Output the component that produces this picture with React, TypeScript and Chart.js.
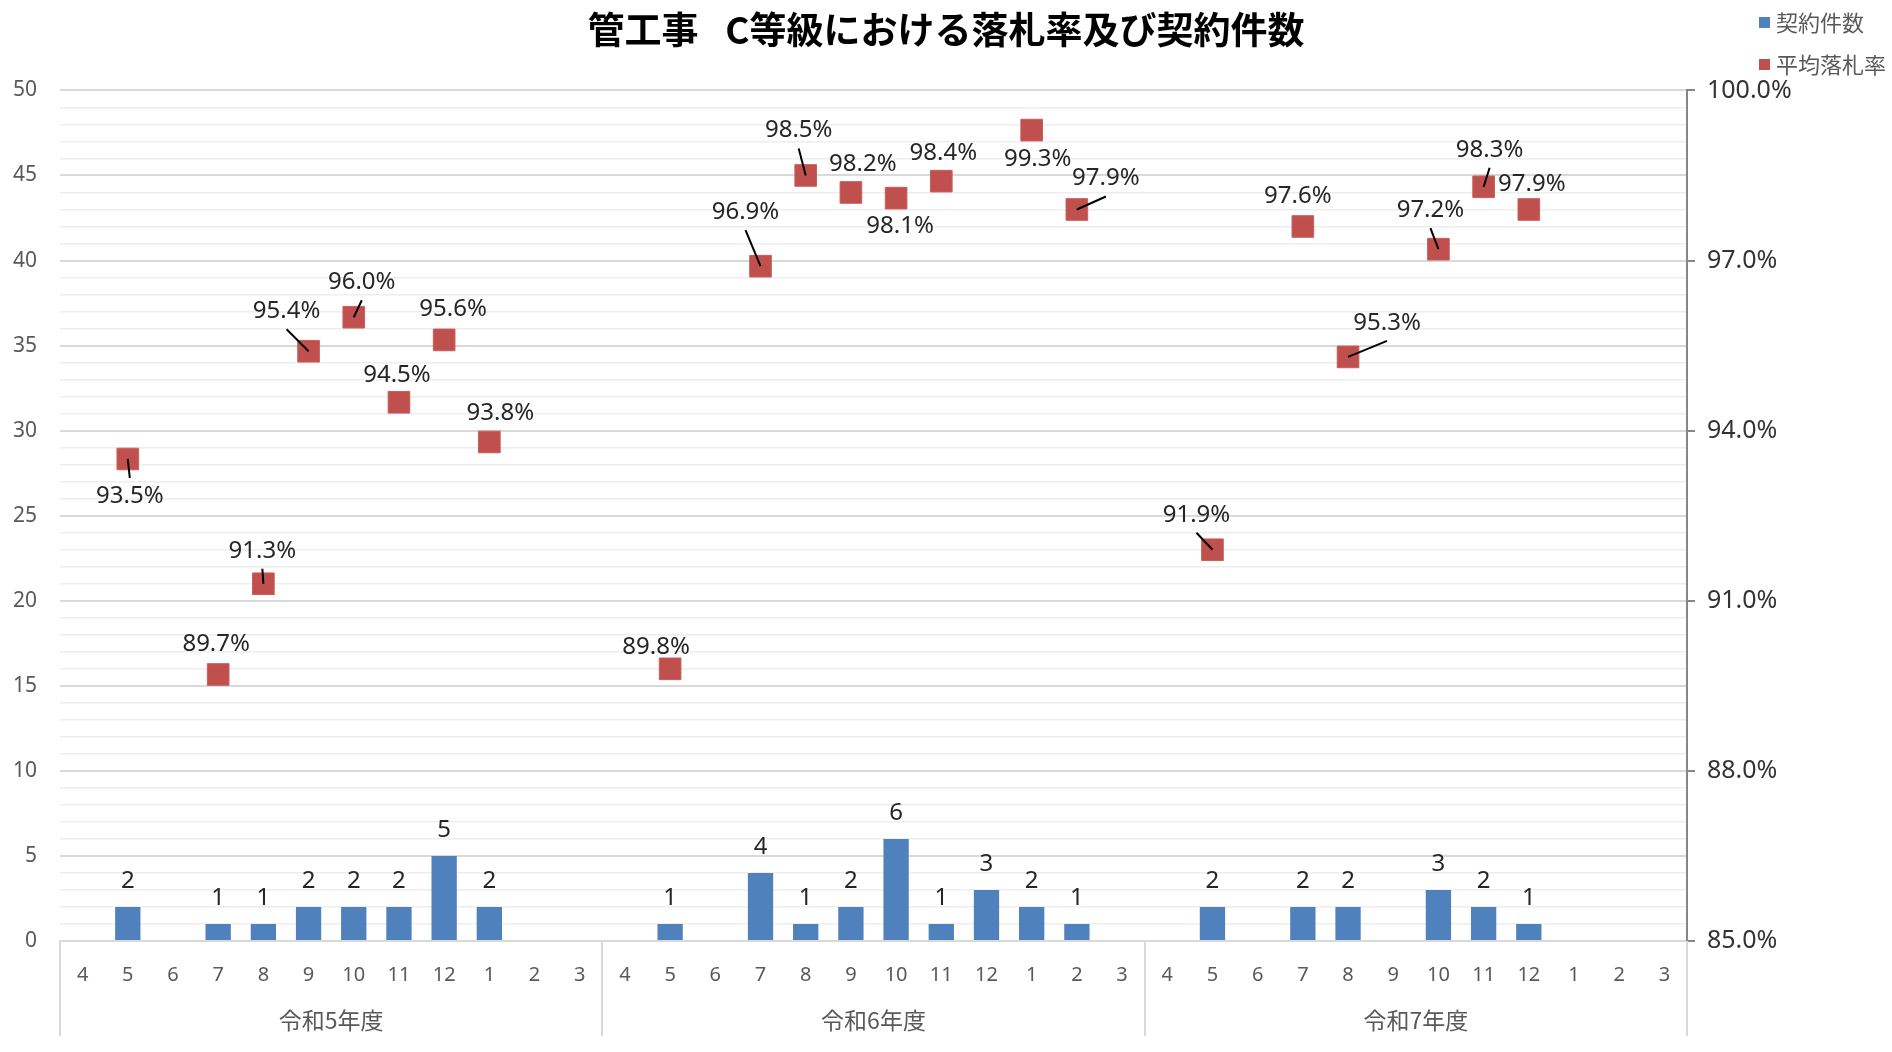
import React, { useEffect, useRef } from 'react';
import { Chart, registerables } from 'chart.js';

Chart.register(...registerables);

const TITLE = '管工事\u2002 C等級における落札率及び契約件数';
const fiscalYears = ['令和5年度', '令和6年度', '令和7年度'];
const monthLabels = ['4', '5', '6', '7', '8', '9', '10', '11', '12', '1', '2', '3'];
const seriesNames = ['契約件数', '平均落札率'];

// 契約件数 (count of contracts) per month
const countR5 = [null, 2, null, 1, 1, 2, 2, 2, 5, 2, null, null];
const countR6 = [null, 1, null, 4, 1, 2, 6, 1, 3, 2, 1, null];
const countR7 = [null, 2, null, 2, 2, null, 3, 2, 1, null, null, null];

// 平均落札率 (average winning-bid rate, %) per month
const rateR5 = [null, 93.5, null, 89.7, 91.3, 95.4, 96.0, 94.5, 95.6, 93.8, null, null];
const rateR6 = [null, 89.8, null, 96.9, 98.5, 98.2, 98.1, 98.4, null, 99.3, 97.9, null];
const rateR7 = [null, 91.9, null, 97.6, 95.3, null, 97.2, 98.3, 97.9, null, null, null];

// Count axis ticks / rate axis ticks
const countAxis = { min: 0, max: 50, minorStep: 1, majorStep: 5 };
const rateAxis = { min: 85, max: 100, step: 3 };

// Rate label placement (dx, dy in px from the marker, leader line flag)
type Off = [number, number, boolean] | null;
const rateLabelOffR5: Off[] = [null, [2, 37, true], null, [-2, -30, false], [-1, -33, true], [-22, -40, true], [8, -35, true], [-2, -27, false], [9, -31, false], [11, -29, false], null, null];
const rateLabelOffR6: Off[] = [null, [-14, -22, false], null, [-15, -54, true], [-7, -45, true], [12, -28, false], [4, 28, false], [2, -28, false], null, [6, 29, false], [29, -31, true], null];
const rateLabelOffR7: Off[] = [null, [-16, -35, true], null, [-5, -30, false], [39, -34, true], null, [-8, -39, true], [6, -37, true], [3, -25, false], null, null, null];

const categories = fiscalYears.flatMap(() => monthLabels);
const counts = [...countR5, ...countR6, ...countR7];
const rates = [...rateR5, ...rateR6, ...rateR7];
const rateOffsets = [...rateLabelOffR5, ...rateLabelOffR6, ...rateLabelOffR7];

const BLUE = '#4f81bd';
const RED = '#c0504d';
const TICK_GRAY = '#595959';
const LABEL_COLOR = '#262626';
const NUM_FONT = '"Noto Sans", "DejaVu Sans", sans-serif';
const JP_FONT = '"Noto Sans CJK JP", "Noto Sans", sans-serif';

const overlayPlugin = {
  id: 'overlay',
  afterDraw(chart: any) {
    const ctx = chart.ctx as CanvasRenderingContext2D;
    const xs = chart.scales.x;
    const area = chart.chartArea;
    ctx.save();

    // category group separators & year labels
    const half = (xs.getPixelForValue(1) - xs.getPixelForValue(0)) / 2;
    const per = monthLabels.length;
    const bounds: number[] = [];
    for (let g = 0; g <= fiscalYears.length; g++) {
      const idx = Math.min(g * per, categories.length - 1);
      const px = g * per >= categories.length ? xs.getPixelForValue(categories.length - 1) + half : xs.getPixelForValue(idx) - half;
      bounds.push(px);
    }
    ctx.strokeStyle = '#d9d9d9';
    ctx.lineWidth = 2;
    bounds.forEach((bx) => {
      ctx.beginPath();
      ctx.moveTo(Math.round(bx), area.bottom);
      ctx.lineTo(Math.round(bx), area.bottom + 95);
      ctx.stroke();
    });
    ctx.fillStyle = TICK_GRAY;
    ctx.font = `23px ${JP_FONT}`;
    ctx.textAlign = 'center';
    ctx.textBaseline = 'middle';
    fiscalYears.forEach((fy, g) => {
      ctx.fillText(fy, (bounds[g] + bounds[g + 1]) / 2, area.bottom + 79);
    });

    // bar value labels
    const barMeta = chart.getDatasetMeta(0);
    ctx.fillStyle = LABEL_COLOR;
    ctx.font = `24px ${NUM_FONT}`;
    barMeta.data.forEach((el: any, i: number) => {
      const v = counts[i];
      if (v == null) return;
      ctx.fillText(String(v), el.x, el.y - 26);
    });

    // rate labels with leader lines
    const rateMeta = chart.getDatasetMeta(1);
    rateMeta.data.forEach((el: any, i: number) => {
      const v = rates[i];
      const off = rateOffsets[i];
      if (v == null || !off) return;
      const lx = el.x + off[0];
      const ly = el.y + off[1];
      if (off[2]) {
        const sy = ly + (off[1] < 0 ? 18 : -18);
        ctx.strokeStyle = '#000';
        ctx.lineWidth = 2;
        ctx.beginPath();
        ctx.moveTo(lx, sy);
        ctx.lineTo(el.x, el.y);
        ctx.stroke();
      }
      ctx.fillStyle = LABEL_COLOR;
      ctx.fillText(`${v.toFixed(1)}%`, lx, ly);
    });

    // legend (top right)
    const lgX = chart.width - 133;
    const items = [
      { name: seriesNames[0], color: BLUE, y: 22 },
      { name: seriesNames[1], color: RED, y: 64 },
    ];
    ctx.font = `22px ${JP_FONT}`;
    ctx.textAlign = 'left';
    items.forEach((it) => {
      ctx.fillStyle = it.color;
      ctx.fillRect(lgX, it.y - 5, 11, 11);
      ctx.fillStyle = TICK_GRAY;
      ctx.fillText(it.name, lgX + 17, it.y + 1);
    });
    ctx.restore();
  },
};

export default function App() {
  const ref = useRef<HTMLCanvasElement | null>(null);

  useEffect(() => {
    document.body.style.margin = '0';
    document.body.style.overflow = 'hidden';
    const canvas = ref.current;
    if (!canvas) return;
    const chart = new Chart(canvas, {
      type: 'bar',
      data: {
        labels: categories,
        datasets: [
          {
            type: 'bar',
            label: seriesNames[0],
            data: counts as any,
            backgroundColor: BLUE,
            yAxisID: 'y',
            categoryPercentage: 1,
            barPercentage: 0.56,
            order: 2,
          },
          {
            type: 'line',
            label: seriesNames[1],
            data: rates as any,
            yAxisID: 'y1',
            showLine: false,
            pointStyle: 'rect',
            pointRadius: 15.3,
            pointHoverRadius: 15.3,
            pointBackgroundColor: RED,
            pointBorderColor: '#c85e5b',
            pointBorderWidth: 1,
            order: 1,
          } as any,
        ],
      },
      options: {
        responsive: false,
        animation: false,
        events: [],
        layout: { padding: 0 },
        plugins: {
          legend: { display: false },
          tooltip: { enabled: false },
          title: {
            display: true,
            text: TITLE,
            color: '#000',
            font: { family: JP_FONT, size: 37, weight: 'bold' },
            padding: { top: 8, bottom: 38 },
          },
        },
        scales: {
          x: {
            type: 'category',
            offset: true,
            grid: { display: false, drawOnChartArea: false, drawTicks: false },
            border: { display: true, color: '#d9d9d9', width: 2 },
            ticks: {
              color: TICK_GRAY,
              font: { family: NUM_FONT, size: 20 },
              padding: 22,
              autoSkip: false,
              maxRotation: 0,
            },
            afterFit: (s: any) => {
              s.height = 111;
            },
          },
          y: {
            type: 'linear',
            position: 'left',
            min: countAxis.min,
            max: countAxis.max,
            ticks: {
              stepSize: countAxis.minorStep,
              autoSkip: false,
              color: TICK_GRAY,
              font: { family: NUM_FONT, size: 21 },
              padding: 23,
              callback: (v: any) => (Number(v) % countAxis.majorStep === 0 ? String(v) : ''),
            },
            grid: {
              drawTicks: false,
              color: (c: any) => (c.tick && c.tick.value % countAxis.majorStep === 0 ? '#d9d9d9' : '#eeeeee'),
              lineWidth: (c: any) => (c.tick && c.tick.value % countAxis.majorStep === 0 ? 2 : 1.5),
            },
            border: { display: false },
            afterFit: (s: any) => {
              s.width = 60;
            },
          },
          y1: {
            type: 'linear',
            position: 'right',
            min: rateAxis.min,
            max: rateAxis.max,
            ticks: {
              stepSize: rateAxis.step,
              autoSkip: false,
              color: '#333333',
              font: { family: NUM_FONT, size: 25 },
              padding: 12,
              callback: (v: any) => `${Number(v).toFixed(1)}%`,
            },
            grid: { drawOnChartArea: false, drawTicks: true, tickLength: 8, color: '#868686', lineWidth: 2 },
            border: { display: true, color: '#868686', width: 2 },
            afterFit: (s: any) => {
              s.width = 205;
            },
          },
        },
      },
      plugins: [overlayPlugin],
    });
    return () => chart.destroy();
  }, []);

  return (
    <div style={{ width: 1892, height: 1052, background: '#fff' }}>
      <canvas ref={ref} width={1892} height={1052} style={{ display: 'block' }} />
    </div>
  );
}
